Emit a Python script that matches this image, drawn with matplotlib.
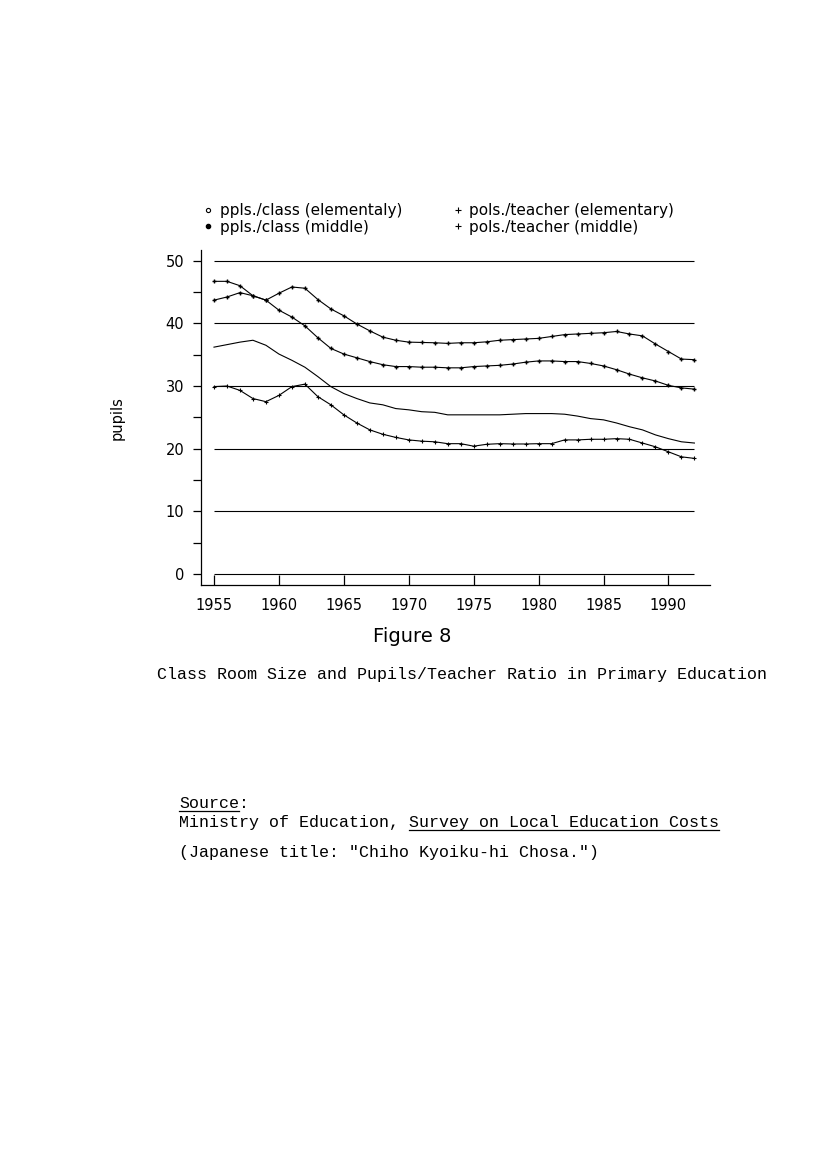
import matplotlib
matplotlib.use("Agg")
import matplotlib.pyplot as plt
from matplotlib.lines import Line2D

# data (1955-1992)
years = list(range(1955, 1993))

class_elem = [46.7, 46.7, 46.0, 44.4, 43.7, 42.1, 41.0, 39.6, 37.7, 36.0,
              35.1, 34.5, 33.9, 33.4, 33.1, 33.1, 33.0, 33.0, 32.9, 32.9,
              33.1, 33.2, 33.3, 33.5, 33.8, 34.0, 34.0, 33.9, 33.9, 33.6,
              33.2, 32.6, 31.9, 31.3, 30.8, 30.1, 29.7, 29.5]
class_mid = [43.7, 44.2, 44.9, 44.4, 43.7, 44.8, 45.8, 45.6, 43.8, 42.3,
             41.2, 39.9, 38.8, 37.8, 37.3, 37.0, 36.95, 36.9, 36.8, 36.9,
             36.9, 37.05, 37.3, 37.4, 37.5, 37.6, 37.9, 38.2, 38.3, 38.4,
             38.5, 38.7, 38.3, 38.0, 36.7, 35.5, 34.3, 34.2]
teacher_elem = [36.2, 36.6, 37.0, 37.3, 36.5, 35.1, 34.1, 33.0, 31.5, 29.9,
                28.8, 28.0, 27.3, 27.0, 26.4, 26.2, 25.9, 25.8, 25.4, 25.4,
                25.4, 25.4, 25.4, 25.5, 25.6, 25.6, 25.6, 25.5, 25.2, 24.8,
                24.6, 24.1, 23.5, 23.0, 22.2, 21.6, 21.1, 20.9]
teacher_mid = [29.9, 30.0, 29.3, 28.0, 27.5, 28.5, 29.9, 30.3, 28.3, 27.0,
               25.4, 24.1, 23.0, 22.3, 21.8, 21.4, 21.2, 21.1, 20.8, 20.8,
               20.4, 20.7, 20.8, 20.75, 20.75, 20.8, 20.8, 21.4, 21.4, 21.5,
               21.5, 21.6, 21.5, 20.9, 20.3, 19.5, 18.7, 18.45]

labels = ["ppls./class (elementaly)", "ppls./class (middle)",
          "pols./teacher (elementary)", "pols./teacher (middle)"]
grid_levels = [0, 10, 20, 30, 40, 50]
x_ticks = [1955, 1960, 1965, 1970, 1975, 1980, 1985, 1990]

W, H = 827, 1170
fig = plt.figure(figsize=(W / 100, H / 100), dpi=100)


def fx(px):
    return px / W


def fy(py):
    return 1 - py / H


ax = fig.add_axes([fx(201), fy(585), fx(710) - fx(201), fy(250) - fy(585)])

# horizontal reference lines
ax.hlines(grid_levels, years[0], years[-1], colors="black", linewidth=0.8)

ax.plot(years, class_elem, color="black", linewidth=0.8,
        marker="+", markersize=3, markeredgewidth=1.0)
ax.plot(years, class_mid, color="black", linewidth=0.8,
        marker="+", markersize=3, markeredgewidth=1.0)
ax.plot(years, teacher_elem, color="black", linewidth=0.8)
ax.plot(years, teacher_mid, color="black", linewidth=0.8,
        marker="+", markersize=2.5, markeredgewidth=0.8)

ax.set_xlim(1954, 1993.2)
ax.set_ylim(-1.75, 51.7)
ax.spines["top"].set_visible(False)
ax.spines["right"].set_visible(False)
ax.spines["left"].set_linewidth(0.9)
ax.spines["bottom"].set_linewidth(0.9)

ax.set_xticks(x_ticks)
ax.set_xticklabels([str(y) for y in x_ticks])
ax.set_yticks(grid_levels)
ax.set_yticks([5, 15, 25, 35, 45], minor=True)
ax.tick_params(axis="x", direction="in", length=7, width=0.9,
               labelsize=10.5, pad=9)
ax.tick_params(axis="y", which="both", direction="out", length=6, width=0.9,
               labelsize=10.5, pad=6)

fig.text(fx(117), fy(418), "pupils", rotation=90, fontsize=10.5,
         ha="center", va="center")

handles = [
    Line2D([], [], linestyle="none", marker="o", markersize=3,
           markerfacecolor="white", markeredgecolor="black", markeredgewidth=0.8),
    Line2D([], [], linestyle="none", marker="o", markersize=3,
           color="black"),
    Line2D([], [], linestyle="none", marker="+", markersize=4,
           color="black", markeredgewidth=0.8),
    Line2D([], [], linestyle="none", marker="+", markersize=4,
           color="black", markeredgewidth=0.8),
]
fig.legend(handles, labels, ncol=2, frameon=False, fontsize=11,
           loc="upper left", bbox_to_anchor=(fx(203), fy(203)),
           bbox_transform=fig.transFigure, borderpad=0, borderaxespad=0,
           handlelength=0.7, handletextpad=0.4, columnspacing=3.3,
           labelspacing=0.1)

fig.text(fx(412), fy(636), "Figure 8", fontsize=14, ha="center", va="center")

mono = "Liberation Mono"
fig.text(fx(157), fy(674),
         "Class Room Size and Pupils/Teacher Ratio in Primary Education",
         family=mono, fontsize=12, ha="left", va="center")

src_x = 179
fig.text(fx(src_x), fy(803), "Source:", family=mono, fontsize=12,
         ha="left", va="center")
line2_pre = "Ministry of Education, "
line2_ul = "Survey on Local Education Costs"
fig.text(fx(src_x), fy(822), line2_pre + line2_ul, family=mono, fontsize=12,
         ha="left", va="center")
fig.text(fx(src_x), fy(853), '(Japanese title: "Chiho Kyoiku-hi Chosa.")',
         family=mono, fontsize=12, ha="left", va="center")

# underlines (monospace: 0.6 em per character)
cw = 0.6 * 12 / 72 * 100
fig.add_artist(Line2D([fx(src_x), fx(src_x + 6 * cw)], [fy(811), fy(811)],
                      color="black", linewidth=0.9))
u0 = src_x + len(line2_pre) * cw
fig.add_artist(Line2D([fx(u0), fx(u0 + len(line2_ul) * cw)], [fy(830), fy(830)],
                      color="black", linewidth=0.9))

fig.savefig("out.png", dpi=100)
